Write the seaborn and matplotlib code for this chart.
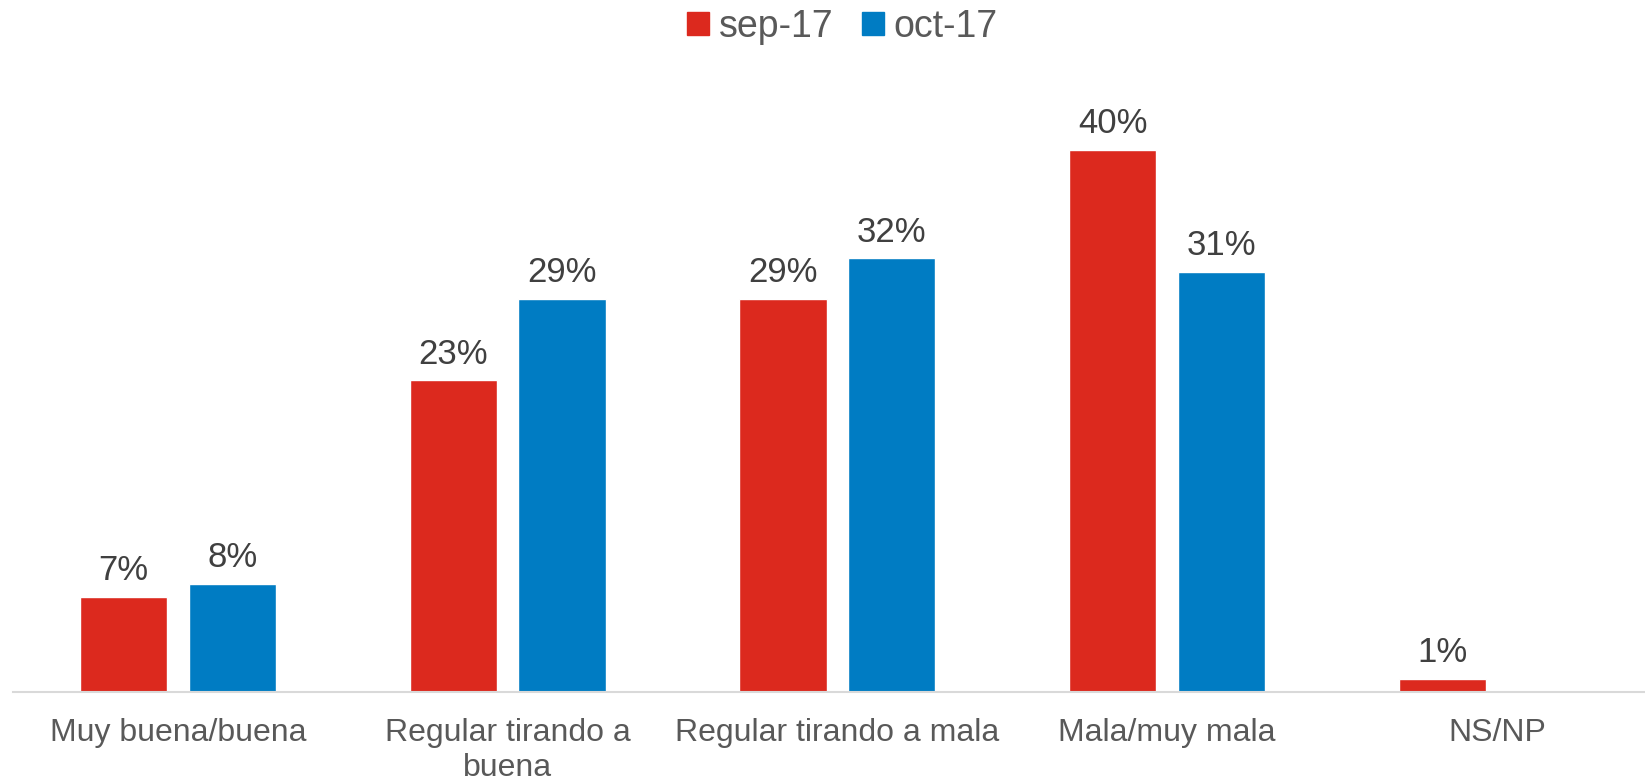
import numpy as np
import pandas as pd
import seaborn as sns
import matplotlib.pyplot as plt

# Data
categories = ["Muy buena/buena", "Regular tirando a\nbuena", "Regular tirando a mala",
              "Mala/muy mala", "NS/NP"]
sep_17 = [7, 23, 29, 40, 1]
oct_17 = [8, 29, 32, 31, np.nan]
series = ["sep-17", "oct-17"]
colors = ["#DC291E", "#007CC3"]

df = pd.DataFrame({
    "Categoria": categories * 2,
    "Valor": sep_17 + oct_17,
    "Serie": [series[0]] * len(categories) + [series[1]] * len(categories),
})

sns.set_style("white")
plt.rcParams["font.family"] = ["Liberation Sans", "DejaVu Sans"]

fig = plt.figure(figsize=(16.45, 7.82), dpi=100)
ax = fig.add_axes([12.9 / 1645, 0.115, 1649 / 1645, 0.78])

sns.barplot(data=df, x="Categoria", y="Valor", hue="Serie", palette=colors,
            width=0.66, gap=0.2, ax=ax, legend=False, saturation=1)

# Value labels
for cont in ax.containers:
    for bar in cont:
        h = bar.get_height()
        if np.isnan(h):
            continue
        ax.annotate(f"{h:.0f}%", (bar.get_x() + bar.get_width() / 2, h),
                    xytext=(0, 7), textcoords="offset points",
                    ha="center", va="bottom", fontsize=25, color="#404040")

ax.set_xlim(-0.5, 4.5)
ax.set_ylim(0, 45)
ax.set_xlabel("")
ax.set_ylabel("")
ax.set_yticks([])
ax.tick_params(axis="x", length=0, labelsize=23, labelcolor="#595959", pad=19)
for s in ["top", "right", "left"]:
    ax.spines[s].set_visible(False)
ax.spines["bottom"].set_color("#D9D9D9")
ax.spines["bottom"].set_linewidth(1.5)

# Legend
handles = [plt.Rectangle((0, 0), 1, 1, color=c) for c in colors]
fig.legend(handles, series, loc="upper center", bbox_to_anchor=(0.512, 1.032),
           ncol=2, frameon=False, fontsize=27, labelcolor="#595959",
           handlelength=0.6, handleheight=0.6, handletextpad=0.25, columnspacing=0.75)

fig.savefig("out.png", dpi=100)
